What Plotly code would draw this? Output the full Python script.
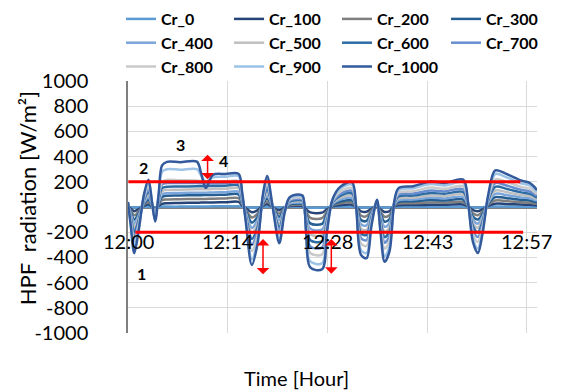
import plotly.graph_objects as go

# ---------------- data ----------------
time_min = [0.0, 0.4, 0.9, 1.5, 2.3, 2.95, 3.45, 3.9, 4.4, 4.9,
            5.6, 7.5, 9.9, 10.5, 11.2, 12.2, 14.0, 15.9, 16.4, 16.9,
            17.8, 18.6, 19.4, 20.0, 20.8, 21.75, 22.5, 23.2, 24.5, 25.1,
            25.6, 26.2, 27.9, 28.6, 29.4, 30.5, 32.2, 32.8, 33.5, 34.3,
            35.0, 35.8, 36.3, 36.9, 37.6, 38.3, 38.9, 41.0, 43.5, 45.5,
            48.2, 48.9, 49.6, 50.3, 51.0, 51.8, 52.8, 54.5, 56.5, 57.8, 58.8]

cr_1000 = [40, -150, -366, -200, 100, 216, 40, -115, 100, 330,
           358, 356, 360, 270, 150, 255, 262, 263, 120, -100,
           -460, -300, 100, 247, 0, -287, -50, 75, 100, 90,
           -200, -480, -495, -200, 60, 160, 197, 0, -380, -406,
           -150, 57, -200, -435, -350, 50, 150, 165, 202, 190,
           217, 30, -280, -366, -200, 100, 290, 260, 210, 189, 135]
cr_900 = [36, -135, -329, -180, 90, 194, 36, -104, 90, 280,
          300, 296, 300, 250, 200, 235, 240, 245, 108, -90,
          -414, -270, 90, 222, 0, -258, -45, 68, 90, 81,
          -180, -432, -446, -180, 54, 144, 177, 0, -342, -365,
          -135, 51, -180, -392, -315, 45, 135, 149, 182, 171,
          195, 27, -252, -329, -180, 90, 261, 234, 189, 170, 122]
cr_800 = [30, -114, -278, -152, 76, 164, 30, -87, 76, 200,
          215, 212, 210, 205, 200, 200, 202, 205, 91, -76,
          -350, -228, 76, 188, 0, -218, -38, 57, 76, 68,
          -152, -365, -376, -152, 46, 122, 150, 0, -289, -309,
          -114, 43, -152, -331, -266, 38, 114, 125, 154, 144,
          165, 23, -213, -278, -152, 76, 220, 198, 160, 144, 103]
cr_700 = [26, -98, -238, -130, 65, 140, 26, -75, 65, 180,
          190, 190, 190, 188, 186, 186, 188, 190, 78, -65,
          -299, -195, 65, 161, 0, -187, -33, 49, 65, 59,
          -130, -312, -322, -130, 39, 104, 128, 0, -247, -264,
          -98, 37, -130, -283, -228, 33, 98, 107, 131, 124,
          141, 20, -182, -238, -130, 65, 189, 169, 137, 123, 88]
cr_600 = [22, -83, -201, -110, 55, 119, 22, -63, 55, 150,
          160, 162, 165, 165, 165, 166, 168, 170, 66, -55,
          -253, -165, 55, 136, 0, -158, -28, 41, 55, 50,
          -110, -264, -272, -110, 33, 88, 108, 0, -209, -223,
          -83, 31, -110, -239, -193, 28, 83, 91, 111, 105,
          119, 17, -154, -201, -110, 55, 160, 143, 116, 104, 74]
cr_500 = [18, -68, -165, -90, 45, 97, 18, -52, 45, 125,
          135, 137, 140, 140, 140, 142, 145, 148, 54, -45,
          -207, -135, 45, 111, 0, -129, -23, 34, 45, 41,
          -90, -216, -223, -90, 27, 72, 89, 0, -171, -183,
          -68, 26, -90, -196, -158, 23, 68, 74, 91, 86,
          98, 14, -126, -165, -90, 45, 131, 117, 95, 85, 61]
cr_400 = [14, -54, -132, -72, 36, 78, 14, -41, 36, 100,
          110, 112, 114, 114, 114, 116, 118, 120, 43, -36,
          -166, -108, 36, 89, 0, -103, -18, 27, 36, 32,
          -72, -173, -178, -72, 22, 58, 71, 0, -137, -146,
          -54, 21, -72, -157, -126, 18, 54, 59, 73, 68,
          78, 11, -101, -132, -72, 36, 104, 94, 76, 68, 49]
cr_300 = [11, -41, -99, -54, 27, 58, 11, -31, 27, 80,
          90, 92, 94, 94, 95, 96, 98, 100, 32, -27,
          -124, -81, 27, 67, 0, -77, -14, 20, 27, 24,
          -54, -130, -134, -54, 16, 43, 53, 0, -103, -110,
          -41, 15, -54, -117, -95, 14, 41, 45, 55, 51,
          59, 8, -76, -99, -54, 27, 78, 70, 57, 51, 36]
cr_200 = [7, -27, -66, -36, 18, 39, 7, -21, 18, 55,
          60, 62, 64, 64, 64, 66, 68, 70, 22, -18,
          -83, -54, 18, 44, 0, -52, -9, 14, 18, 16,
          -36, -86, -89, -36, 11, 29, 35, 0, -68, -73,
          -27, 10, -36, -78, -63, 9, 27, 30, 36, 34,
          39, 5, -50, -66, -36, 18, 52, 47, 38, 34, 24]
cr_100 = [4, -14, -33, -18, 9, 19, 4, -10, 9, 25,
          30, 32, 34, 35, 35, 36, 38, 40, 11, -9,
          -41, -27, 9, 22, 0, -26, -5, 7, 9, 8,
          -18, -43, -45, -18, 5, 14, 18, 0, -34, -37,
          -14, 5, -18, -39, -32, 5, 14, 15, 18, 17,
          20, 3, -25, -33, -18, 9, 26, 23, 19, 17, 12]
cr_0 = [0, -2, -4, -2, 1, 2, 0, -1, 1, 3,
        3, 3, 4, 4, 4, 5, 5, 5, 1, -1,
        -5, -3, 1, 2, 0, -3, 0, 1, 1, 1,
        -2, -5, -5, -2, 1, 2, 2, 0, -4, -4,
        -2, 1, -2, -4, -4, 1, 2, 2, 2, 2,
        2, 0, -3, -4, -2, 1, 3, 3, 2, 2, 1]

series_names = ["Cr_0", "Cr_100", "Cr_200", "Cr_300", "Cr_400", "Cr_500",
                "Cr_600", "Cr_700", "Cr_800", "Cr_900", "Cr_1000"]
series_values = [cr_0, cr_100, cr_200, cr_300, cr_400, cr_500,
                 cr_600, cr_700, cr_800, cr_900, cr_1000]
series_colors = ["#5B9BD5", "#264478", "#7F7F7F", "#255E91", "#7AA6DC", "#BFBFBF",
                 "#2E6DA4", "#698ED0", "#CACACA", "#9DC3E6", "#335A9C"]

y_tick_vals = [1000, 800, 600, 400, 200, 0, -200, -400, -600, -800, -1000]
y_tick_labels = ["1000", "800", "600", "400", "200", "0", "-200", "-400", "-600", "-800", "-1000"]

x_tick_vals = [0, 14.333, 28.667, 43.0, 57.333]
x_tick_labels = ["12:00", "12:14", "12:28", "12:43", "12:57"]
x_label_level = -273

limit_values = [200, -200]
limit_x_start = [0.05, 1.05]
limit_x_end = [56.4, 56.8]

arrow_x = [11.44, 19.41, 29.23]
arrow_top = [426, -243, -243]
arrow_bottom = [220, -534, -529]

point_labels = ["1", "2", "3", "4"]
point_x = [2.0, 2.2, 7.5, 13.8]
point_y = [-527, 317, 499, 370]

FONT = "Lato, 'Open Sans', sans-serif"

# legend laid out as 4 columns (one vertical legend per column)
legend_ids = ["legend", "legend2", "legend3", "legend4"]
legend_col_x = [121, 229, 337, 446]

fig = go.Figure()

for i, (name, vals, col) in enumerate(zip(series_names, series_values, series_colors)):
    fig.add_trace(go.Scatter(
        x=time_min, y=vals, name=name, mode="lines",
        legend=legend_ids[i % 4],
        line=dict(color=col, width=2.5, shape="spline", smoothing=0.9),
    ))

for v, xs, xe in zip(limit_values, limit_x_start, limit_x_end):
    fig.add_trace(go.Scatter(
        x=[xs, xe], y=[v, v], mode="lines", showlegend=False,
        line=dict(color="#FF0000", width=3), hoverinfo="skip",
    ))

annotations = []
for xv, lab in zip(x_tick_vals, x_tick_labels):
    annotations.append(dict(x=xv, y=x_label_level, xref="x", yref="y", text=lab,
                            showarrow=False, font=dict(family=FONT, size=20, color="#000"),
                            xanchor="center", yanchor="middle"))
for ax_, top, bot in zip(arrow_x, arrow_top, arrow_bottom):
    annotations.append(dict(x=ax_, y=bot, ax=ax_, ay=top, xref="x", yref="y",
                            axref="x", ayref="y", text="", showarrow=True,
                            arrowhead=1, startarrowhead=1, arrowside="end+start",
                            arrowsize=1.4, startarrowsize=1.4, arrowwidth=1.5,
                            arrowcolor="#FF0000"))
for lab, px_, py_ in zip(point_labels, point_x, point_y):
    annotations.append(dict(x=px_, y=py_, xref="x", yref="y", text="<b>%s</b>" % lab,
                            showarrow=False, font=dict(family=FONT, size=16, color="#000")))
annotations.append(dict(x=-(128 - 27) / 409, y=(333.3 - 198.5) / 252.3,
                        xref="paper", yref="paper",
                        text="HPF  radiation [W/m²]", textangle=-90, showarrow=False,
                        font=dict(family=FONT, size=22, color="#000"),
                        xanchor="center", yanchor="middle"))
annotations.append(dict(x=(296 - 128) / 409, y=-(378 - 333.3) / 252.3,
                        xref="paper", yref="paper", text="Time [Hour]",
                        showarrow=False, xanchor="center", yanchor="middle",
                        font=dict(family=FONT, size=20, color="#000")))

legend_layout = {}
for lid, lx in zip(legend_ids, legend_col_x):
    legend_layout[lid] = dict(
        orientation="v", xref="container", yref="container",
        x=lx / 563, y=1 - 2 / 392, xanchor="left", yanchor="top",
        font=dict(family=FONT, size=16, color="#000", weight="bold"),
        bgcolor="rgba(0,0,0,0)", itemwidth=30, tracegroupgap=0,
    )

fig.update_layout(
    width=563, height=392,
    margin=dict(l=128, r=26, t=81, b=59, autoexpand=False),
    paper_bgcolor="white", plot_bgcolor="white",
    font=dict(family=FONT, size=20, color="#000"),
    showlegend=True,
    xaxis=dict(range=[0, 58.8], tickvals=x_tick_vals, showticklabels=False,
               showgrid=True, gridcolor="#D9D9D9", gridwidth=1, zeroline=False,
               showline=False, ticks=""),
    yaxis=dict(range=[-1000, 1000], tickvals=y_tick_vals, ticktext=y_tick_labels,
               showgrid=True,
               gridcolor="#D9D9D9", gridwidth=1, zeroline=True, zerolinecolor="#7F7F7F",
               zerolinewidth=2.5, showline=True, linecolor="#7F7F7F", linewidth=1.5,
               ticks="", ticklabelstandoff=34,
               tickfont=dict(family=FONT, size=20, color="#000")),
    annotations=annotations,
    **legend_layout,
)

fig.write_html("out.html", post_script="document.body.style.margin='0';",
               config={"displayModeBar": False})
